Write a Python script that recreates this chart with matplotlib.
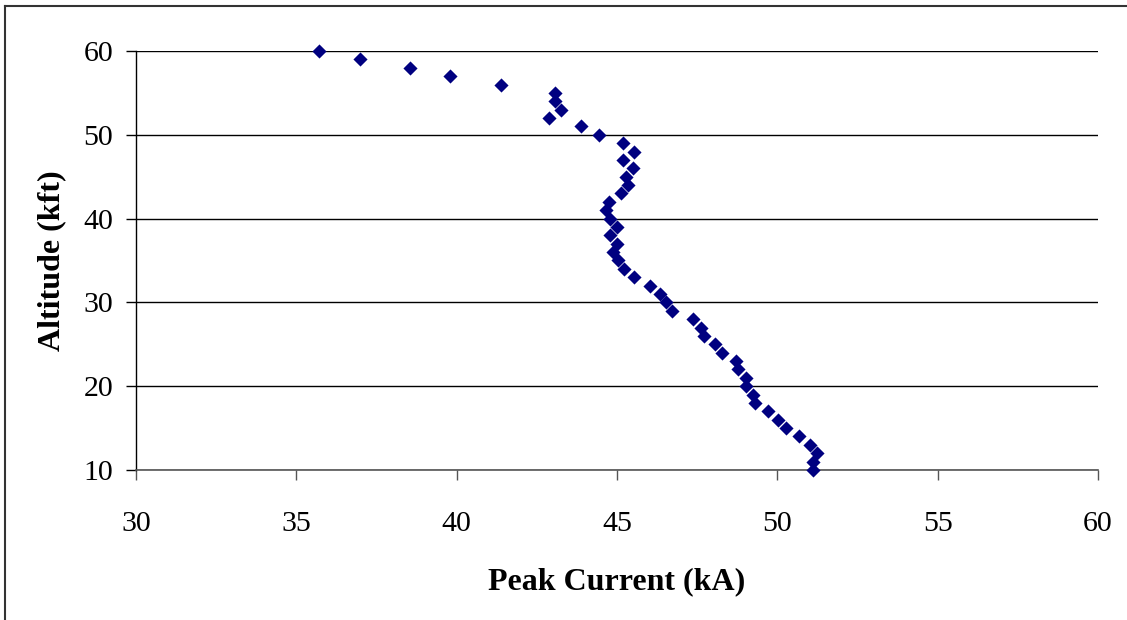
import matplotlib
matplotlib.use("Agg")
import matplotlib.pyplot as plt
from matplotlib.lines import Line2D

# Peak current (kA) versus altitude (kft)
altitude_kft = [60, 59, 58, 57, 56, 55, 54, 53, 52, 51, 50, 49, 48, 47, 46, 45,
                44, 43, 42, 41, 40, 39, 38, 37, 36, 35, 34, 33, 32, 31, 30, 29,
                28, 27, 26, 25, 24, 23, 22, 21, 20, 19, 18, 17, 16, 15, 14, 13,
                12, 11, 10]
peak_current_ka = [35.72, 36.99, 38.54, 39.79, 41.37, 43.07, 43.07, 43.24, 42.87,
                   43.87, 44.45, 45.20, 45.53, 45.20, 45.49, 45.28, 45.33, 45.11,
                   44.74, 44.65, 44.78, 44.99, 44.78, 45.01, 44.88, 45.04, 45.22,
                   45.53, 46.02, 46.35, 46.54, 46.72, 47.37, 47.61, 47.71, 48.05,
                   48.26, 48.71, 48.78, 49.02, 49.02, 49.25, 49.30, 49.72, 50.03,
                   50.26, 50.68, 51.02, 51.24, 51.12, 51.10]

x_ticks = [30, 35, 40, 45, 50, 55, 60]
y_ticks = [10, 20, 30, 40, 50, 60]

plt.rcParams["font.family"] = ["Liberation Serif", "DejaVu Serif"]

fig = plt.figure(figsize=(11.27, 6.2), dpi=100)
ax = fig.add_axes([136 / 1127, 150 / 620, 962 / 1127, 419 / 620])

ax.scatter(peak_current_ka, altitude_kft, marker="D", s=7.2 ** 2,
           color="#000080", linewidths=0, zorder=3, clip_on=False)

ax.set_xlim(30, 60)
ax.set_ylim(10, 60)
ax.set_xticks(x_ticks)
ax.set_yticks(y_ticks)
ax.yaxis.grid(True, color="black", linewidth=1.0)
ax.set_axisbelow(True)

for side in ("top", "right"):
    ax.spines[side].set_visible(False)
ax.spines["left"].set_color("black")
ax.spines["left"].set_linewidth(1.0)
ax.spines["bottom"].set_color("#555555")
ax.spines["bottom"].set_linewidth(1.2)

ax.tick_params(axis="both", direction="out", length=7.5, width=1.0,
               labelsize=21.5, color="black")
ax.tick_params(axis="x", pad=22, color="#555555")
ax.tick_params(axis="y", pad=9)

ax.set_xlabel("Peak Current (kA)", fontsize=23, fontweight="bold", labelpad=22)
ax.set_ylabel("Altitude (kft)", fontsize=23, fontweight="bold", labelpad=12)

# Outer frame (top and left edges)
fig.add_artist(Line2D([5 / 1127, 1.0], [1 - 6 / 620, 1 - 6 / 620],
                      transform=fig.transFigure, color="#333333", linewidth=1.5))
fig.add_artist(Line2D([5 / 1127, 5 / 1127], [0.0, 1 - 6 / 620],
                      transform=fig.transFigure, color="#333333", linewidth=1.5))

fig.savefig("out.png", dpi=100)
